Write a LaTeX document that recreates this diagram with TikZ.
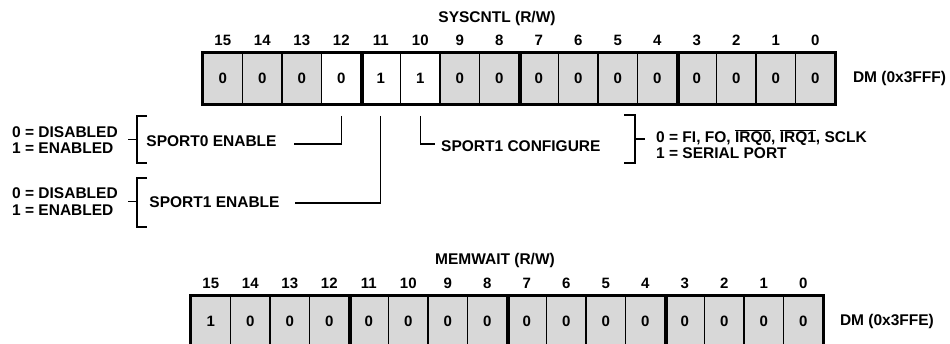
\documentclass[tikz,border=0pt]{standalone}
\usepackage{fontspec}
\setmainfont{Liberation Sans}
\usetikzlibrary{positioning}
\definecolor{cellgray}{RGB}{216,216,216}
\tikzset{
  lbl/.style={font=\bfseries\fontsize{15.5}{16.5}\selectfont, inner sep=0pt},
  bitno/.style={font=\bfseries\fontsize{15}{16}\selectfont, inner sep=0pt,
    text height=11pt, text depth=0pt},
  cell/.style={draw, line width=1.6pt, minimum width=39.5pt, minimum height=51pt,
    inner sep=0pt, font=\bfseries\fontsize{15}{16}\selectfont},
  lead/.style={line width=1.3pt},
  quad/.style={line width=3.4pt}
}

\begin{document}
\begin{tikzpicture}[x=1pt,y=-1pt]
\useasboundingbox (0,0) rectangle (950,343);
\clip (0,0) rectangle (950,343);

% SYSCNTL register
\node[lbl] (sysname) at (497,18) {SYSCNTL (R/W)};
\foreach \b/\v/\f in {15/0/cellgray,14/0/cellgray,13/0/cellgray,12/0/white,
    11/1/white,10/1/white,9/0/cellgray,8/0/cellgray,7/0/cellgray,6/0/cellgray,
    5/0/cellgray,4/0/cellgray,3/0/cellgray,2/0/cellgray,1/0/cellgray,0/0/cellgray}{
  \node[cell, fill=\f] (s\b) at ({203+(15.5-\b)*39.5},78.5) {\v};
  \node[bitno, above=7pt of s\b] (sn\b) {\b};
}
\foreach \b in {12,8,4}
  \draw[quad] (s\b.north east) -- (s\b.south east);
\draw[line width=1.8pt] (s15.north west) rectangle (s0.south east);
\node[lbl, right=17pt of s0] (sysaddr) {DM (0x3FFF)};

% bit labels
\node[lbl] (sp0en) at (211.5,141) {SPORT0 ENABLE};
\node[lbl] (sp1en) at (214.5,202) {SPORT1 ENABLE};
\node[lbl, anchor=west] (sp1cfg) at (441,146) {SPORT1 CONFIGURE};
\node[lbl, align=left, anchor=west] (sp0val) at (12,140) {0 = DISABLED\\1 = ENABLED};
\node[lbl, align=left, anchor=west] (sp1val) at (12,201.5) {0 = DISABLED\\1 = ENABLED};
\node[lbl, align=left, anchor=west] (cfgval) at (656,144)
  {0 = FI, FO, $\overline{\hbox{IRQ0}}$, $\overline{\hbox{IRQ1}}$, SCLK\\1 = SERIAL PORT};

\draw[lead] ([yshift=-11pt]s12.south) |- ([xshift=17pt,yshift=-3pt]sp0en.east);
\draw[lead] ([yshift=-11pt]s11.south) |- ([xshift=15pt,yshift=-1pt]sp1en.east);
\draw[lead] ([yshift=-11pt]s10.south) |- ([xshift=-6pt,yshift=2pt]sp1cfg.west);

% brackets
\draw[lead] (147,116) -- (137,116) -- (137,163) -- (147,163);
\draw[lead] (128,139.5) -- (137,139.5);
\draw[lead] (147,178) -- (137,178) -- (137,227) -- (147,227);
\draw[lead] (128,201.5) -- (137,201.5);
\draw[lead] (624,115) -- (635,115) -- (635,163) -- (624,163);
\draw[lead] (635,139) -- (645,139);

% MEMWAIT register
\node[lbl] (memname) at (495,260) {MEMWAIT (R/W)};
\foreach \b/\v in {15/1,14/0,13/0,12/0,11/0,10/0,9/0,8/0,7/0,6/0,5/0,4/0,3/0,2/0,1/0,0/0}{
  \node[cell, fill=cellgray] (m\b) at ({191+(15.5-\b)*39.5},321.5) {\v};
  \node[bitno, above=7pt of m\b] (mn\b) {\b};
}
\foreach \b in {12,8,4}
  \draw[quad] (m\b.north east) -- (m\b.south east);
\draw[line width=1.8pt] (m15.north west) rectangle (m0.south east);
\node[lbl, right=16pt of m0] (memaddr) {DM (0x3FFE)};
\end{tikzpicture}
\end{document}
